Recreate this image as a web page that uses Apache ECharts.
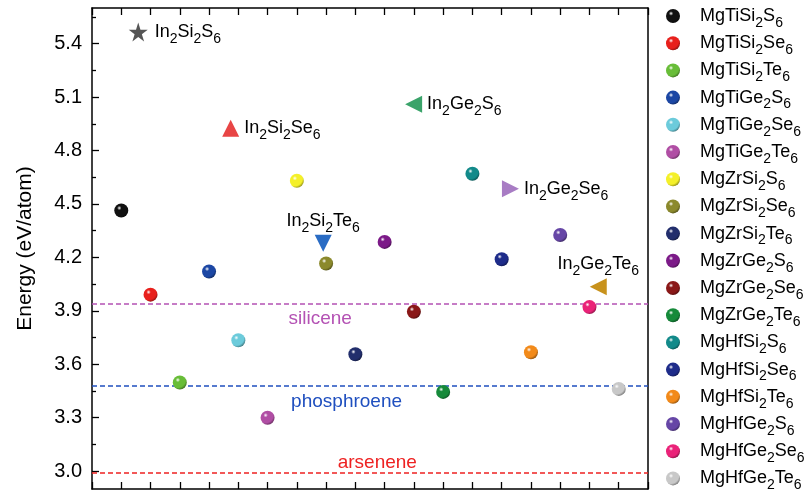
<!DOCTYPE html>
<html><head><meta charset="utf-8">
<script src="https://cdn.jsdelivr.net/npm/echarts@6/dist/echarts.min.js"></script>
<style>html,body{margin:0;padding:0;background:#fff}#c{width:807px;height:495px}</style>
</head><body><div id="c"></div>
<script>
// ---- data ----
const compounds = ['MgTiSi2S6','MgTiSi2Se6','MgTiSi2Te6','MgTiGe2S6','MgTiGe2Se6','MgTiGe2Te6',
  'MgZrSi2S6','MgZrSi2Se6','MgZrSi2Te6','MgZrGe2S6','MgZrGe2Se6','MgZrGe2Te6',
  'MgHfSi2S6','MgHfSi2Se6','MgHfSi2Te6','MgHfGe2S6','MgHfGe2Se6','MgHfGe2Te6'];
const energies = [4.463, 3.991, 3.498, 4.121, 3.735, 3.300, 4.630, 4.166, 3.656,
  4.287, 3.895, 3.445, 4.670, 4.190, 3.668, 4.326, 3.921, 3.462];
const colors = ['#111111','#e8201c','#68bd38','#1c47a4','#6ccbdb','#b04ea4','#f4f02a','#8b892c','#222e6c',
  '#7c1a88','#8a1818','#168a3a','#128a8a','#1e2c8a','#f28a1a','#6646a6','#ea2278','#c8c8c8'];
const refNames = ['In2Si2S6','In2Si2Se6','In2Si2Te6','In2Ge2S6','In2Ge2Se6','In2Ge2Te6'];
const refX = [1.58, 4.74, 7.9, 10.99, 14.3, 17.3];
const refY = [5.465, 4.925, 4.28, 5.06, 4.585, 4.035];
const refColors = ['#555555','#e84545','#2a6cc4','#3aa36a','#a87cc4','#c8921c'];
const refRotate = [0, 0, 180, 90, -90, 90];
const refLabelPos = ['right','right','top','right','right','top'];
const lineNames = ['silicene','phosphroene','arsenene'];
const lineValues = [3.942, 3.479, 2.989];
const lineColors = ['#b452b4','#1f4fbf','#ee2222'];
const lineLabelX = [7.8, 8.7, 9.75];
const lineLabelY = [3.853, 3.39, 3.045];
const yMajor = [3.0, 3.3, 3.6, 3.9, 4.2, 4.5, 4.8, 5.1, 5.4];
const yMinor = [3.15, 3.45, 3.75, 4.05, 4.35, 4.65, 4.95, 5.25, 5.55];

// ---- helpers ----
function shade(hex, f) {
  const n = parseInt(hex.slice(1), 16);
  let r = (n >> 16) & 255, g = (n >> 8) & 255, b = n & 255;
  r = Math.round(r * f); g = Math.round(g * f); b = Math.round(b * f);
  return 'rgb(' + r + ',' + g + ',' + b + ')';
}
function sphere(hex) {
  return {type: 'radial', x: 0.36, y: 0.32, r: 0.72, colorStops: [
    {offset: 0, color: '#ffffff'}, {offset: 0.22, color: hex},
    {offset: 0.75, color: hex}, {offset: 1, color: shade(hex, 0.6)}]};
}
const FONT = 'Liberation Sans, Arial';
const sub = s => s.match(/\d|\D+/g).map(t => /\d/.test(t) ? '{s|' + t + '}' : '{n|' + t + '}').join('');
const rich = {
  n: {fontSize: 18, lineHeight: 18, verticalAlign: 'top', color: '#000', fontFamily: FONT},
  s: {fontSize: 14, lineHeight: 14, padding: [9, 0, 0, 0], verticalAlign: 'top', color: '#000', fontFamily: FONT}
};
const star = 'path://M50,0 L61.2,34.5 L97.6,34.5 L68.2,55.9 L79.4,90.5 L50,69.1 L20.6,90.5 L31.8,55.9 L2.4,34.5 L38.8,34.5 Z';

const series = [];
compounds.forEach((n, i) => {
  series.push({name: n, type: 'scatter', symbol: 'circle', symbolSize: 14,
    itemStyle: {color: sphere(colors[i]), opacity: 1}, data: [[i + 1, energies[i]]], z: 5});
});
refNames.forEach((n, i) => {
  series.push({name: n, type: 'scatter', symbol: i === 0 ? star : 'triangle',
    symbolSize: i === 0 ? 19 : 17, symbolRotate: refRotate[i],
    itemStyle: {color: refColors[i], opacity: 1},
    label: {show: true, position: refLabelPos[i], distance: i === 0 ? 7 : 5, formatter: sub(n),
      color: '#000', fontFamily: FONT, rich: rich},
    data: [[refX[i], refY[i]]], z: 6});
});
series.push({name: 'refs', type: 'scatter', symbolSize: 0, silent: true,
  itemStyle: {opacity: 1},
  data: lineNames.map((n, i) => ({value: [lineLabelX[i], lineLabelY[i]], name: n,
    label: {show: true, position: 'inside', formatter: n, color: lineColors[i], fontSize: 19, fontFamily: FONT}})),
  markLine: {silent: true, symbol: 'none', label: {show: false},
    data: lineValues.map((v, i) => ({yAxis: v, lineStyle: {color: lineColors[i], type: [5, 3], width: 1.6}}))},
  z: 3});

const axisLine = {show: true, lineStyle: {color: '#000', width: 1.5}};
const option = {
  animation: false,
  backgroundColor: '#fff',
  grid: {left: 92, right: 159, top: 8, bottom: 6},
  legend: {
    data: compounds, orient: 'vertical', left: 666, top: 7, padding: 0,
    itemWidth: 14, itemHeight: 14, itemGap: 4.2, icon: 'circle',
    formatter: n => sub(n),
    textStyle: {padding: [0, 0, 0, 15], color: '#000', fontFamily: FONT, rich: rich}
  },
  xAxis: [
    {type: 'value', min: 0, max: 19, interval: 1, position: 'bottom', axisLine: axisLine,
     axisTick: {show: true, inside: true, length: 7, lineStyle: {color: '#000', width: 1.3}},
     axisLabel: {show: false}, splitLine: {show: false}},
    {type: 'value', min: 0, max: 19, interval: 1, position: 'top', axisLine: axisLine,
     axisTick: {show: true, inside: true, length: 7, lineStyle: {color: '#000', width: 1.3}},
     axisLabel: {show: false}, splitLine: {show: false}}
  ],
  yAxis: [
    {type: 'value', min: 2.9, max: 5.6, position: 'left', axisLine: axisLine,
     name: 'Energy (eV/atom)', nameLocation: 'middle', nameGap: 56, nameRotate: 90,
     nameTextStyle: {fontSize: 21, color: '#000', fontFamily: FONT},
     axisTick: {show: true, inside: true, length: 7, customValues: yMajor, lineStyle: {color: '#000', width: 1.3}},
     axisLabel: {show: true, customValues: yMajor, formatter: v => v.toFixed(1), margin: 10, fontSize: 20, color: '#000', fontFamily: FONT},
     splitLine: {show: false}},
    {type: 'value', min: 2.9, max: 5.6, position: 'left', axisLine: {show: false},
     axisTick: {show: true, inside: true, length: 4, customValues: yMinor, lineStyle: {color: '#000', width: 1.3}},
     axisLabel: {show: false}, splitLine: {show: false}},
    {type: 'value', min: 2.9, max: 5.6, position: 'right', axisLine: axisLine,
     axisTick: {show: false}, axisLabel: {show: false}, splitLine: {show: false}}
  ],
  series: series
};
echarts.init(document.getElementById('c')).setOption(option);
</script></body></html>
